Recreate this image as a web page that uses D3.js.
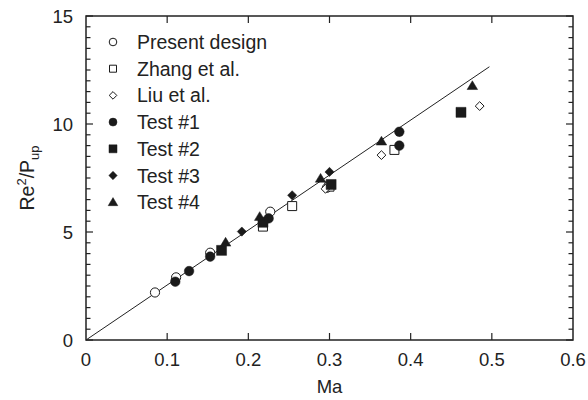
<!DOCTYPE html>
<html>
<head>
<meta charset="utf-8">
<script src="https://cdn.jsdelivr.net/npm/d3@7"></script>
<style>
  body { margin: 0; background: #fff; }
  text { font-family: "Liberation Sans", Arial, sans-serif; fill: #222; }
</style>
</head>
<body>
<div id="chart"></div>
<script>
// series values
const presentMa = [0.085, 0.111, 0.153, 0.227, 0.297];
const presentY  = [2.2, 2.9, 4.04, 5.94, 7.05];
const zhangMa = [0.218, 0.254, 0.30, 0.380];
const zhangY  = [5.25, 6.2, 7.1, 8.8];
const liuMa = [0.295, 0.364, 0.485];
const liuY  = [7.0, 8.56, 10.83];
const test1Ma = [0.110, 0.127, 0.153, 0.225, 0.386, 0.386];
const test1Y  = [2.7, 3.19, 3.86, 5.63, 9.0, 9.64];
const test2Ma = [0.167, 0.218, 0.302, 0.462];
const test2Y  = [4.15, 5.45, 7.2, 10.54];
const test3Ma = [0.192, 0.254, 0.300, 0.386];
const test3Y  = [5.02, 6.7, 7.78, 9.64];
const test4Ma = [0.172, 0.214, 0.289, 0.364, 0.476];
const test4Y  = [4.52, 5.71, 7.48, 9.2, 11.77];
const fitMa = [0, 0.497];
const fitY  = [0, 12.65];
const xTicks = [0, 0.1, 0.2, 0.3, 0.4, 0.5, 0.6];
const yTicks = [0, 5, 10, 15];

const width = 588, height = 400;
const svg = d3.select("#chart").append("svg")
    .attr("width", width)
    .attr("height", height);

const x = d3.scaleLinear().domain([0, 0.6]).range([86, 573]);
const y = d3.scaleLinear().domain([0, 15]).range([340, 16]);

// marker paths centred on 0,0
function shape(kind, s) {
    if (kind === "circle") return d3.symbol(d3.symbolCircle, Math.PI * s * s)();
    if (kind === "square") return `M${-s},${-s}H${s}V${s}H${-s}Z`;
    if (kind === "diamond") return `M0,${-s}L${s},0L0,${s}L${-s},0Z`;
    // triangle
    return `M0,${-s}L${s * 1.05},${s * 0.75}L${-s * 1.05},${s * 0.75}Z`;
}

const series = [
    { name: "Present design", ma: presentMa, v: presentY, kind: "circle", filled: false, s: 4.6, ls: 3.8 },
    { name: "Zhang et al.", ma: zhangMa, v: zhangY, kind: "square", filled: false, s: 4.5, ls: 3.5 },
    { name: "Liu et al.", ma: liuMa, v: liuY, kind: "diamond", filled: false, s: 4.4, ls: 3.8 },
    { name: "Test #1", ma: test1Ma, v: test1Y, kind: "circle", filled: true, s: 4.8, ls: 4 },
    { name: "Test #2", ma: test2Ma, v: test2Y, kind: "square", filled: true, s: 5, ls: 4 },
    { name: "Test #3", ma: test3Ma, v: test3Y, kind: "diamond", filled: true, s: 4.6, ls: 4.2 },
    { name: "Test #4", ma: test4Ma, v: test4Y, kind: "triangle", filled: true, s: 5, ls: 4.6 }
];

// fit line
svg.append("line")
    .attr("x1", x(fitMa[0])).attr("y1", y(fitY[0]))
    .attr("x2", x(fitMa[1])).attr("y2", y(fitY[1]))
    .attr("stroke", "#222").attr("stroke-width", 1);

// data points: open ones first, filled on top
series.forEach(sr => {
    svg.append("g").selectAll("path")
        .data(sr.ma.map((m, i) => [m, sr.v[i]]))
        .join("path")
        .attr("transform", d => `translate(${x(d[0])},${y(d[1])})`)
        .attr("d", shape(sr.kind, sr.s))
        .attr("fill", sr.filled ? "#1a1a1a" : "#fff")
        .attr("stroke", "#1a1a1a")
        .attr("stroke-width", sr.filled ? 0.5 : 1);
});

// frame
svg.append("rect")
    .attr("x", x(0)).attr("y", y(15))
    .attr("width", x(0.6) - x(0)).attr("height", y(0) - y(15))
    .attr("fill", "none").attr("stroke", "#222").attr("stroke-width", 1.5);

// ticks, all pointing inward
const axes = svg.append("g").attr("stroke", "#222").attr("stroke-width", 1.2);
xTicks.slice(1, -1).forEach(t => {
    axes.append("line").attr("x1", x(t)).attr("x2", x(t)).attr("y1", y(0)).attr("y2", y(0) - 7);
    axes.append("line").attr("x1", x(t)).attr("x2", x(t)).attr("y1", y(15)).attr("y2", y(15) + 7);
});
d3.range(0, 15.01, 0.5).forEach(t => {
    const len = t % 5 === 0 ? 7 : 4.5;
    axes.append("line").attr("x1", x(0)).attr("x2", x(0) + len).attr("y1", y(t)).attr("y2", y(t));
    axes.append("line").attr("x1", x(0.6)).attr("x2", x(0.6) - len).attr("y1", y(t)).attr("y2", y(t));
});

// tick labels
svg.append("g").selectAll("text")
    .data(xTicks).join("text")
    .attr("x", d => x(d)).attr("y", 366)
    .attr("text-anchor", "middle")
    .attr("font-size", 18.5)
    .text(d => d === 0 ? "0" : d3.format(".1f")(d));

svg.append("g").selectAll("text")
    .data(yTicks).join("text")
    .attr("x", 73).attr("y", d => y(d) + 6.5)
    .attr("text-anchor", "end")
    .attr("font-size", 18.5)
    .text(d => d);

// axis titles
svg.append("text")
    .attr("x", x(0.3)).attr("y", 393)
    .attr("text-anchor", "middle")
    .attr("font-size", 18.5)
    .text("Ma");

const yTitle = svg.append("text")
    .attr("transform", `translate(34,${(y(0) + y(15)) / 2}) rotate(-90)`)
    .attr("text-anchor", "middle")
    .attr("font-size", 19.5);
yTitle.append("tspan").text("Re");
yTitle.append("tspan").attr("font-size", 13).attr("dy", -8).text("2");
yTitle.append("tspan").attr("dy", 8).text("/P");
yTitle.append("tspan").attr("font-size", 13).attr("dy", 5).text("up");

// legend
const legend = svg.append("g");
series.forEach((sr, i) => {
    const ly = 42 + i * 26.7;
    legend.append("path")
        .attr("transform", `translate(113,${ly})`)
        .attr("d", shape(sr.kind, sr.ls))
        .attr("fill", sr.filled ? "#1a1a1a" : "#fff")
        .attr("stroke", "#1a1a1a")
        .attr("stroke-width", sr.filled ? 0.5 : 1);
    legend.append("text")
        .attr("x", 137).attr("y", ly + 7)
        .attr("font-size", 19.5)
        .text(sr.name);
});
</script>
</body>
</html>
